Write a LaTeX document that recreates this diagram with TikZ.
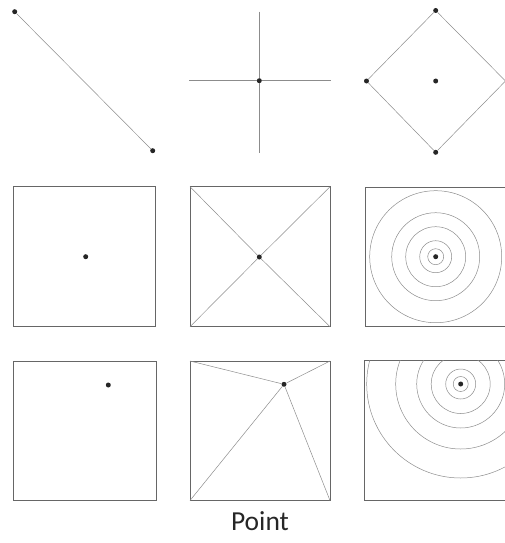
\documentclass[tikz,border=0pt]{standalone}
\usepackage{fontspec}
\newfontfamily\labelfont{Carlito}

\begin{document}
\begin{tikzpicture}[x=1pt, y=-1pt,
  dot/.style={circle, fill=black!85, inner sep=0pt, minimum size=5pt},
  pencil/.style={draw=black!45, line width=0.5pt},
  frame/.style={draw=black!60, line width=1pt}]
\useasboundingbox (0,0) rectangle (504,543);

% row 1
\node[dot] (p1) at (14.7, 11.7) {};
\node[dot] (p2) at (152.7, 150.7) {};
\draw[pencil] (p1) -- (p2);

\node[dot] (c) at (259.3, 80.7) {};
\coordinate (cn) at (259.3, 11.7);
\coordinate (cs) at (259.3, 153.3);
\coordinate (cw) at (189, 80.7);
\coordinate (ce) at (331.3, 80.7);
\draw[pencil] (cn) -- (c) -- (cs);
\draw[pencil] (cw) -- (c) -- (ce);

\node[dot] (dm) at (435.7, 81) {};
\node[dot] (dn) at (435.7, 10.5) {};
\node[dot] (dw) at (366.5, 81) {};
\node[dot] (ds) at (435.7, 152.3) {};
\coordinate (de) at (505.5, 81);
\draw[pencil] (dn) -- (de) -- (ds) -- (dw) -- (dn);

% row 2
\draw[frame] (13.3, 186.7) rectangle (155, 326.7);
\node[dot] (a) at (85.7, 256.7) {};

\coordinate (bnw) at (190, 186.7);
\coordinate (bne) at (330, 186.7);
\coordinate (bse) at (330, 326.7);
\coordinate (bsw) at (190, 326.7);
\draw[frame] (bnw) rectangle (bse);
\node[dot] (b) at (259.3, 257) {};
\draw[pencil] (bnw) -- (b) -- (bse);
\draw[pencil] (bne) -- (b) -- (bsw);

\draw[frame] (365, 187.3) rectangle (505, 326.7);
\node[dot] (r) at (435.7, 256.7) {};
\foreach \rad in {8, 16, 30, 44, 66}
  \draw[pencil] (r) circle[radius=\rad pt];

% row 3
\draw[frame] (13.3, 361) rectangle (156, 500.5);
\node[dot] (e) at (108.3, 385) {};

\coordinate (fnw) at (190, 361);
\coordinate (fne) at (330, 361);
\coordinate (fse) at (330, 500.5);
\coordinate (fsw) at (190, 500.5);
\draw[frame] (fnw) rectangle (fse);
\node[dot] (f) at (284, 384.3) {};
\draw[pencil] (fnw) -- (f) -- (fse);
\draw[pencil] (fne) -- (f) -- (fsw);

\draw[frame] (364.3, 360.7) rectangle (505, 500.5);
\node[dot] (g) at (460.7, 384) {};
\begin{scope}
  \clip (364.3, 360.7) rectangle (505, 500.5);
  \foreach \rad in {7.5, 15, 29.5, 44, 65, 94}
    \draw[pencil] (g) circle[radius=\rad pt];
\end{scope}

\node[font=\labelfont\fontsize{27.5}{30}\selectfont, text=black!85] (title) at (260, 521.5) {Point};
\end{tikzpicture}
\end{document}
